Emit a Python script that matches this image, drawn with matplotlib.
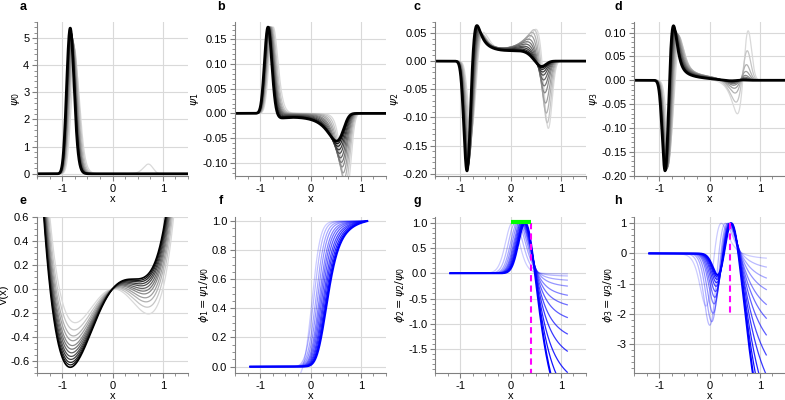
import numpy as np
import matplotlib.pyplot as plt
from matplotlib.ticker import MultipleLocator

plt.rcParams['font.family'] = ['Liberation Sans', 'DejaVu Sans']
plt.rcParams['mathtext.fontset'] = 'dejavusans'
plt.rcParams['axes.unicode_minus'] = False

# panel e: V(x) = a*x^4 - b*x^2 + c*x, one tilt c per curve (lightest first).
left_well_depth = [-0.28, -0.34, -0.39, -0.43, -0.47, -0.50, -0.53, -0.56, -0.585, -0.61, -0.63, -0.65]
coef_x4 = 0.87
coef_x2 = 0.92
diffusion = 0.03   # sets the width of psi_0 in panel a

# left-well extremum of the darkest psi_1, psi_2, psi_3 (panels b-d)
left_extreme = [0.175, -0.195, -0.19]

# markers in panels g and h
dash_x = 0.4
dash_y = [1.0, -2.0]
green_x = [0.0, 0.4]
green_y = 1.01

# axis settings, panels a..h
letters = ['a', 'b', 'c', 'd', 'e', 'f', 'g', 'h']
ylims = [(-0.1, 5.6), (-0.128, 0.186), (-0.205, 0.07), (-0.202, 0.123),
         (-0.7, 0.6), (-0.046, 1.03), (-1.98, 1.12), (-3.98, 1.22)]
ymajor = [1, 0.05, 0.05, 0.05, 0.2, 0.2, 0.5, 1]
yminor = [0.2, 0.01, 0.01, 0.01, 0.05, 0.05, 0.1, 0.2]
ylabels = [r'$\psi_0$', r'$\psi_1$', r'$\psi_2$', r'$\psi_3$', 'V(x)',
           r'$\phi_1 = \psi_1/\psi_0$', r'$\phi_2 = \psi_2/\psi_0$', r'$\phi_3 = \psi_3/\psi_0$']

x = np.linspace(-1.6, 1.6, 801)
dx = x[1] - x[0]
phi_mask = (x >= -1.2) & (x <= 1.13)
left_mask = x < -0.5


def potential(c):
    return coef_x4 * x**4 - coef_x2 * x**2 + c * x


def tilt_for(depth):
    lo, hi = -0.5, 1.5
    for _ in range(60):
        mid = 0.5 * (lo + hi)
        if potential(mid)[x < 0].min() > depth:
            lo = mid
        else:
            hi = mid
    return 0.5 * (lo + hi)


def left_value(p):
    return p[np.argmax(np.abs(np.where(left_mask, p, 0)))]


def modes(v):
    # symmetrised Fokker-Planck generator on the grid
    dv = np.diff(v)
    diag = np.zeros(len(x))
    diag[:-1] += np.exp(-dv / (2 * diffusion))
    diag[1:] += np.exp(dv / (2 * diffusion))
    off = -np.ones(len(x) - 1)
    S = (np.diag(diag) + np.diag(off, 1) + np.diag(off, -1)) * diffusion / dx**2
    w, u = np.linalg.eigh(S)
    u0 = np.exp(-(v - v.min()) / (2 * diffusion))
    u0 /= np.sqrt(np.sum(u0**2) * dx)
    psi = [u0**2]
    phi = []
    for n in range(1, 4):
        un = u[:, n]
        p = un * u0
        p = p * np.sign(left_value(p) * left_extreme[n - 1])
        if n == 1:
            p = p / abs(left_value(p))
        else:
            p = p / np.sqrt(np.sum(p**2) * dx)
        psi.append(p)
        f = un / u0
        f = f * np.sign(f[np.argmin(np.abs(x - 0.4))])
        phi.append(f / f[phi_mask].max())
    return psi, phi


ncurve = len(left_well_depth)
V, PSI, PHI = [], [], []
for d in left_well_depth:
    v = potential(tilt_for(d))
    psi, phi = modes(v)
    V.append(v)
    PSI.append(psi)
    PHI.append(phi)

# common scale so the darkest curve matches the read left extremum
for n in range(1, 4):
    s = abs(left_extreme[n - 1] / left_value(PSI[-1][n]))
    for k in range(ncurve):
        PSI[k][n] = PSI[k][n] * s

fig = plt.figure(figsize=(7.85, 4.0), dpi=100)
lefts = [37, 235, 435, 634]
axes = []
for r, (top, bot) in enumerate([(21.7, 176.5), (216.7, 373.3)]):
    for c in range(4):
        ax = fig.add_axes([lefts[c] / 785, 1 - bot / 400, 151 / 785, (bot - top) / 400])
        axes.append(ax)

grays = [str(g) for g in np.linspace(0.85, 0.0, ncurve)]
alphas = np.linspace(0.2, 1.0, ncurve)

for k in range(ncurve):
    last = k == ncurve - 1
    for n in range(4):
        axes[n].plot(x, PSI[k][n], color=grays[k], lw=2.0 if last else 0.9)
    axes[4].plot(x, V[k], color=grays[k], lw=1.2 if last else 0.9)
    for n in range(3):
        axes[5 + n].plot(x[phi_mask], PHI[k][n][phi_mask], color='#0000ff',
                         alpha=alphas[k], lw=1.5 if last else 0.9)

for ax in axes[6:]:
    ax.plot([dash_x, dash_x], dash_y, color='#ff00ff', lw=1.5, ls=(0, (3, 2)), zorder=5)
axes[6].plot(green_x, [green_y, green_y], color='#00ff00', lw=3, solid_capstyle='butt', zorder=6)

for i, ax in enumerate(axes):
    ax.set_xlim(-1.5, 1.5)
    ax.set_ylim(*ylims[i])
    ax.xaxis.set_major_locator(MultipleLocator(1))
    ax.xaxis.set_minor_locator(MultipleLocator(0.25))
    ax.yaxis.set_major_locator(MultipleLocator(ymajor[i]))
    ax.yaxis.set_minor_locator(MultipleLocator(yminor[i]))
    ax.spines[['top', 'right']].set_visible(False)
    for s in ['left', 'bottom']:
        ax.spines[s].set_color('#808080')
    ax.tick_params(which='both', direction='out', color='#808080', labelsize=8, pad=2)
    ax.tick_params(which='major', length=3.5)
    ax.tick_params(which='minor', length=2)
    ax.grid(True, which='major', color='#d9d9d9', lw=0.8)
    ax.set_axisbelow(True)
    ax.set_xlabel('x', fontsize=8, labelpad=0)
    ax.set_ylabel(ylabels[i], fontsize=8, labelpad=1)

letter_x = [23, 221, 417, 618]
for i, L in enumerate(letters):
    fig.text(letter_x[i % 4] / 785, 1 - (7 if i < 4 else 201) / 400, L,
             fontsize=9, fontweight='bold', ha='center', va='center')

fig.savefig('out.png', dpi=100)
